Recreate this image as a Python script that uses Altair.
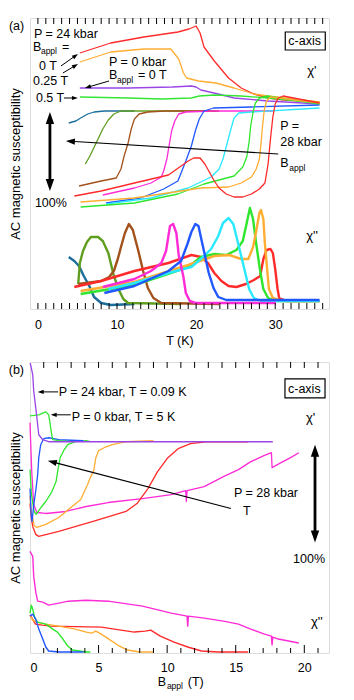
import math
import altair as alt
import pandas as pd

FONT = "Liberation Sans"

RED = "#ff2a2a"
ORANGE = "#ffad33"
PURPLE = "#9b45e6"
LGREEN = "#33e633"
TEAL = "#1b6d9c"
OLIVE = "#5f9e1e"
BROWN = "#a3521c"
MAGENTA = "#ff2bd6"
BLUE = "#2157ff"
CYAN = "#29e8ff"
GREEN = "#2ee62e"

# ================= Panel (a): vs temperature T (K) =================
# chi' : P = 24 kbar at B_appl = 0, 0.25, 0.5 T and P = 0 kbar, B_appl = 0 T
A1_P24_0T_T = [5.3, 9.2, 13.4, 17.7, 19.1, 20.0, 20.5, 21.0, 22.3, 24.1, 25.7, 27.3, 29.1, 31.1, 35.6]
A1_P24_0T_Y = [256, 266, 272, 277, 280, 283, 276, 262, 248, 231, 221, 215, 211, 209, 207]
A1_P24_025T_T = [5.3, 9.2, 13.4, 16.8, 17.8, 18.4, 18.8, 20.3, 22.5, 24.8, 27.3, 29.1, 35.6]
A1_P24_025T_Y = [247, 257, 260, 260, 250, 236, 231, 228, 226, 221, 215, 213, 207]
A1_P0_0T_T = [5.3, 11.4, 17.0, 19.4, 20.0, 20.6, 22.8, 24.8, 29.1, 35.6]
A1_P0_0T_Y = [221, 221, 222, 223, 222, 219, 215, 211, 208, 205]
A1_P24_05T_T = [5.3, 11.4, 15.6, 19.4, 20.4, 22.3, 25.7, 29.1, 35.6]
A1_P24_05T_Y = [212, 211, 210, 211, 213, 214, 213, 211, 206]
# chi' : P = 28 kbar, various B_appl
A1_TEAL_T = [3.9, 4.8, 5.4, 6.3, 7.1, 8.4, 12.2]
A1_TEAL_Y = [186, 188, 191, 195, 197, 198, 198]
A1_OLIVE_T = [6.0, 6.5, 7.0, 7.6, 8.2, 8.9, 9.6, 10.5, 14.3, 22.5]
A1_OLIVE_Y = [145, 152, 160, 170, 180, 189, 195, 198, 198, 198]
A1_BROWN_T = [5.2, 8.0, 9.9, 10.5, 10.9, 11.4, 11.8, 12.2, 12.8, 13.9, 16.0, 22.9]
A1_BROWN_Y = [123, 128, 131, 140, 153, 166, 180, 190, 195, 197, 198, 198]
A1_MAGENTA_T = [8.2, 12.2, 14.3, 15.6, 15.9, 16.3, 16.6, 16.9, 17.3, 17.8, 18.7, 22.0, 29.7]
A1_MAGENTA_Y = [114, 121, 126, 132, 138, 150, 164, 178, 188, 195, 197, 198, 198]
A1_BLUE_T = [8.6, 13.0, 15.9, 17.7, 18.7, 19.4, 19.9, 20.4, 21.0, 22.2, 27.0, 35.6]
A1_BLUE_Y = [106, 111, 120, 128, 148, 163, 178, 190, 198, 201, 202, 204]
A1_CYAN_T = [8.6, 14.3, 19.0, 21.9, 22.9, 23.4, 23.9, 24.4, 24.8, 25.4, 27.0, 35.6]
A1_CYAN_Y = [105, 111, 121, 132, 140, 150, 165, 180, 191, 196, 197, 201]
A1_GREEN_T = [5.4, 12.2, 17.7, 21.0, 24.8, 25.9, 26.4, 26.7, 26.9, 27.2, 27.5, 28.0, 29.0, 35.6]
A1_GREEN_Y = [102, 106, 115, 125, 133, 142, 152, 167, 183, 197, 206, 211, 213, 205]
A1_ORANGE_T = [5.4, 12.2, 20.6, 24.1, 25.7, 27.0, 27.6, 28.0, 28.2, 28.4, 28.6, 28.9, 29.4, 35.6]
A1_ORANGE_Y = [107, 111, 121, 122, 126, 132, 140, 150, 165, 183, 198, 208, 212, 206]
A1_RED_T = [4.6, 8.0, 12.2, 16.5, 19.0, 19.7, 20.5, 21.1, 21.6, 22.3, 22.9, 23.8, 24.8, 25.9, 27.0,
            28.0, 28.7, 29.1, 29.4, 29.7, 30.0, 30.4, 31.0, 35.6]
A1_RED_Y = [113, 118, 126, 134, 148, 151, 151, 145, 138, 128, 121, 115, 112, 112, 115,
            120, 126, 145, 170, 192, 205, 211, 213, 206]

# chi'' : P = 28 kbar
A2_TEAL_T = [3.9, 4.6, 5.2, 5.8, 6.5, 7.1, 8.0, 9.2, 12.2]
A2_TEAL_Y = [52, 48, 43, 33, 23, 12, 6, 4, 5]
A2_OLIVE_T = [5.1, 5.3, 5.7, 6.2, 6.7, 7.6, 8.2, 8.9, 9.6, 10.3, 10.8, 11.4, 18.1]
A2_OLIVE_Y = [25, 46, 58, 67, 72, 72, 68, 56, 33, 18, 10, 6, 5]
A2_BROWN_T = [5.1, 8.0, 9.0, 9.6, 10.1, 10.5, 11.0, 11.5, 12.0, 12.7, 13.3, 13.9, 14.6, 15.6, 22.9]
A2_BROWN_Y = [25, 28, 32, 38, 50, 62, 76, 85, 79, 58, 38, 21, 11, 6, 5]
A2_MAGENTA_T = [8.2, 12.2, 14.3, 15.6, 16.2, 16.5, 16.7, 17.1, 17.5, 17.8, 18.4, 18.7, 19.2, 19.9, 30.1]
A2_MAGENTA_Y = [22, 30, 38, 46, 58, 73, 83, 85, 76, 54, 32, 16, 8, 6, 6]
A2_CYAN_T = [8.9, 12.2, 16.5, 19.4, 20.6, 21.9, 22.8, 23.4, 24.1, 24.7, 25.3, 26.1, 26.7, 27.3, 28.2, 35.6]
A2_CYAN_Y = [20, 26, 36, 42, 50, 60, 73, 86, 91, 85, 66, 40, 20, 11, 8, 8]
A2_GREEN_T = [5.4, 12.2, 16.8, 19.0, 20.6, 22.3, 23.8, 25.1, 25.9, 26.4, 26.8, 27.2, 27.6, 28.1, 28.5,
              29.1, 30.1, 35.6]
A2_GREEN_Y = [15, 24, 36, 42, 52, 55, 54, 59, 68, 86, 101, 90, 65, 38, 20, 11, 8, 8]
A2_ORANGE_T = [5.4, 12.2, 19.0, 22.3, 24.2, 25.7, 26.6, 27.2, 27.6, 28.0, 28.2, 28.5, 28.7, 29.0, 29.2,
               29.7, 30.8, 35.6]
A2_ORANGE_Y = [18, 27, 44, 53, 54, 50, 50, 62, 78, 96, 99, 90, 65, 38, 20, 11, 8, 8]
A2_RED_T = [4.6, 8.0, 12.2, 16.5, 19.4, 20.6, 21.5, 22.3, 23.2, 24.1, 25.1, 26.3, 27.3, 28.1, 28.5,
            28.9, 29.4, 29.7, 30.0, 30.3, 30.5, 31.4, 35.6]
A2_RED_Y = [22, 28, 38, 46, 54, 52, 46, 36, 28, 23, 22, 25, 29, 33, 50, 59, 60, 56, 40, 20, 11, 8, 8]
A2_BLUE_T = [8.4, 12.2, 16.5, 18.1, 18.9, 19.4, 19.9, 20.3, 20.6, 21.1, 21.6, 22.2, 22.8, 23.8, 35.6]
A2_BLUE_Y = [16, 23, 38, 48, 65, 77, 85, 83, 72, 54, 36, 21, 12, 9, 9]

# ================= Panel (b): vs applied field B_appl (T) =================
B1_P24_B = [0.0, 0.05, 0.2, 0.27, 0.42, 0.56, 0.64, 0.93, 1.36, 5.2, 17.7]
B1_P24_Y = [291, 289, 279, 263, 246, 229, 219, 214, 212, 212, 212]
B1_P0_B = [0.0, 0.64, 1.15, 1.36, 1.44, 1.58, 1.66, 2.1, 3.0]
B1_P0_Y = [238, 239, 242, 239, 233, 219, 214, 213, 212]
B1_BLUE_B = [0.0, 0.08, 0.15, 0.27, 0.42, 0.56, 0.64, 0.78, 1.0, 1.36, 2.1, 3.9]
B1_BLUE_Y = [165, 140, 132, 148, 163, 179, 196, 209, 215, 216, 214, 213]
B1_GREEN_B = [0.0, 0.1, 0.3, 0.45, 0.8, 1.15, 1.6, 1.9, 2.05, 2.2, 2.45, 2.75, 3.3, 4.1, 4.4]
B1_GREEN_Y = [184, 160, 142, 139, 146, 152, 162, 172, 185, 196, 203, 209, 212, 213, 212]
B1_ORANGE_B = [0.0, 0.1, 0.3, 0.5, 1.15, 2.1, 2.8, 3.7, 4.2, 4.4, 4.65, 4.8, 5.0, 5.4, 6.0, 7.0, 9.0]
B1_ORANGE_Y = [157, 142, 128, 126, 129, 136, 144, 154, 169, 176, 183, 196, 203, 206, 209, 212, 213]
B1_RED_B = [0.0, 0.1, 0.2, 0.42, 0.64, 2.1, 4.6, 7.0, 7.8, 8.6, 9.3, 10.05, 10.8, 11.7, 13.0, 15.9]
B1_RED_Y = [150, 135, 127, 119, 117, 122, 132, 142, 150, 165, 182, 196, 205, 210, 212, 212]
B1_MAGENTA_B = [0.0, 0.12, 0.27, 0.5, 1.15, 1.9, 2.6, 4.1, 5.7, 8.2, 10.3, 11.35, 11.4, 11.45, 12.7, 14.1,
                15.2, 16.1, 17.06, 17.6, 17.65, 18.3, 19.0, 19.6]
B1_MAGENTA_Y = [231, 184, 149, 141, 140, 141, 142, 147, 151, 155, 159, 163, 152, 163, 167, 177,
                184, 192, 198, 201, 186, 191, 196, 201]

B2_MAGENTA_B = [0.0, 0.2, 0.27, 0.42, 0.56, 0.93, 1.36, 2.1, 2.8, 4.1, 5.7, 8.2, 10.3, 11.45, 11.5, 11.55,
                12.7, 14.1, 15.2, 16.1, 17.1, 17.6, 17.65, 17.7, 18.1, 19.6]
B2_MAGENTA_Y = [102, 97, 77, 61, 52, 51, 48, 50, 52, 53, 52, 47, 40, 37, 27, 37,
                35, 32, 29, 24, 19, 17, 8, 16, 14, 10]
B2_RED_B = [0.0, 0.1, 0.4, 0.9, 1.5, 5.2, 7.6, 8.4, 8.8, 9.5, 10.5, 11.5, 12.5, 13.7, 15.9]
B2_RED_Y = [38, 36, 29, 28, 27, 26, 21, 22, 23, 17, 11, 6, 2, 1, 1]
B2_ORANGE_B = [0.0, 0.2, 0.5, 1.15, 2.1, 3.3, 4.1, 4.5, 4.8, 5.2, 5.75, 6.4, 7.1, 8.0, 9.0]
B2_ORANGE_Y = [38, 33, 31, 29, 27, 24, 21, 20, 22, 19, 14, 8, 3, 1, 1]
B2_GREEN_B = [0.0, 0.1, 0.2, 0.35, 0.56, 1.15, 1.66, 2.0, 2.4, 2.75, 3.1, 4.1, 4.4]
B2_GREEN_Y = [40, 48, 44, 35, 31, 29, 24, 21, 14, 7, 3, 1, 1]
B2_BLUE_B = [0.0, 0.2, 0.42, 0.64, 0.93, 1.15, 1.36, 2.1, 3.9]
B2_BLUE_Y = [37, 39, 34, 24, 14, 6, 2, 1, 1]

# ================= Tick values =================
A_TICKS = list(range(0, 37))
B_MINOR = [v for v in range(1, 22) if v % 5 != 0]
B_MAJOR = [5, 10, 15, 20]
B_TOP = list(range(1, 22))
A_LABELS = [0, 10, 20, 30]
B_LABELS = [0, 5, 10, 15, 20]

# ================= Annotations (data units) =================
A_TXT_LABEL = ["(a)", "P = 24 kbar", "B", "appl", "=", "0 T", "0.25 T", "0.5 T", "P = 0 kbar", "B", "appl",
               "= 0 T", "c-axis", "\u03c7'", "P =", "28 kbar", "B", "appl", "100%", "\u03c7''"]
A_TXT_X = [-3.67, -0.51, -0.63, 0.38, 3.04, 0.13, -0.63, -0.25, 8.99, 8.99, 10.0,
           12.66, 31.65, 34.05, 30.63, 30.63, 30.63, 31.77, -0.38, 33.92]
A_TXT_Y = [283, 275, 262, 258, 262, 243, 228, 211, 247, 234, 229,
           234, 268, 238, 183, 167, 146, 141, 106, 73]
A_TXT_SIZE = [12.5, 12.5, 12.5, 8.5, 12.5, 12.5, 12.5, 12.5, 12.5, 12.5, 8.5,
              12.5, 12.5, 13, 12.5, 12.5, 12.5, 8.5, 12.5, 13]

B_TXT_LABEL = ["(b)", "P = 24 kbar, T = 0.09 K", "P = 0 kbar, T = 5 K", "c-axis", "\u03c7'", "P = 28 kbar",
               "T", "100%", "\u03c7''", "B", "appl", "(T)"]
B_TXT_X = [-1.55, 2.09, 3.04, 18.81, 20.12, 14.87, 15.53, 19.18, 20.49, 9.32, 9.98, 11.5]
B_TXT_Y = [284, 262, 237, 265, 236, 161, 142, 94, 31, -29, -33, -29]
B_TXT_SIZE = [12.5, 12.5, 12.5, 12.5, 13, 12.5, 12.5, 12.5, 13, 12.5, 8.5, 12.5]

A_BOX = [31.27, 36.33, 259, 277]
B_BOX = [18.59, 21.51, 256, 275]

A_ARROW_X1 = [2.91, 3.16, 3.29, 8.99, 30.38, 1.52]
A_ARROW_Y1 = [243, 236, 211, 228, 155, 118]
A_ARROW_X2 = [5.06, 5.06, 5.06, 5.95, 3.54, 1.52]
A_ARROW_Y2 = [255, 245, 211, 221, 168, 197]
A_ARROW_W = [1, 1, 1, 1, 1.2, 2.8]
A_ARROW_HEAD = [36, 36, 36, 36, 81, 144]
A_ARROW_BOTH = [False, False, False, False, False, True]

B_ARROW_X1 = [2.05, 2.97, 14.65, 20.78]
B_ARROW_Y1 = [262, 239, 145, 111]
B_ARROW_X2 = [0.56, 1.51, 1.30, 20.78]
B_ARROW_Y2 = [262, 239, 193, 209]
B_ARROW_W = [1, 1, 1.2, 2.8]
B_ARROW_HEAD = [36, 36, 81, 144]
B_ARROW_BOTH = [False, False, False, True]

W, H = 299, 291
A_XDOM = [-1, 36.8]
A_YDOM = [0, 291]
B_XDOM = [0, 21.8]
B_YDOM = [0, 292]


def curves_df(curves):
    rows = []
    for name, color, xs, ys in curves:
        for i, (x, y) in enumerate(zip(xs, ys)):
            rows.append({"curve": name, "color": color, "x": x, "y": y, "i": i})
    return pd.DataFrame(rows)


def text_df(labels, xs, ys, sizes):
    return pd.DataFrame({"label": labels, "x": xs, "y": ys, "size": sizes})


def arrow_dfs(x1s, y1s, x2s, y2s, ws, hs, boths, kx, ky):
    shafts, heads = [], []
    for x1, y1, x2, y2, w, h, b in zip(x1s, y1s, x2s, y2s, ws, hs, boths):
        sx, sy = (x2 - x1) * kx, -(y2 - y1) * ky
        L = math.hypot(sx, sy)
        ux, uy = sx / L, sy / L
        back = math.sqrt(h) / 2
        ex, ey = x2 - ux * back / kx, y2 + uy * back / ky
        ang = math.degrees(math.atan2(ux, -uy)) % 360
        heads.append({"x": ex, "y": ey, "s": h, "ang": ang})
        bx, by = x1, y1
        if b:
            bx, by = x1 + ux * back / kx, y1 - uy * back / ky
            heads.append({"x": bx, "y": by, "s": h, "ang": (ang + 180) % 360})
        shafts.append({"x": bx, "y": by, "x2": ex, "y2": ey, "w": w})
    return pd.DataFrame(shafts), pd.DataFrame(heads)


def ticks_df(values, y_edge, length):
    # y_edge and y_edge + length in data units of the panel's y scale (1 unit ~ 1 px)
    return pd.DataFrame({"x": values, "y": [y_edge] * len(values), "y2": [y_edge + length] * len(values)})


def x_axis(labels, title, label_pad=9, title_pad=4):
    kw = dict(orient="bottom", values=labels, ticks=False, tickSize=0, domain=False, grid=False,
              labelPadding=label_pad, labelFontSize=12.5, labelFont=FONT, labelColor="black")
    if title:
        kw.update(title=title, titlePadding=title_pad, titleFontSize=12.5, titleFont=FONT,
                  titleFontWeight="normal", titleColor="black")
    else:
        kw["title"] = None
    return alt.Axis(**kw)


Y_AXIS = alt.Axis(orient="left", title="AC magnetic susceptibility", labels=False, ticks=False, domain=False,
                  grid=False, titlePadding=8, titleFontSize=13, titleFont=FONT, titleFontWeight="normal",
                  titleColor="black")


def panel(line1, line2, w1, w2, txt, box, shafts, heads, xdom, ydom, xaxis, tick_tables):
    xs = alt.Scale(domain=xdom, nice=False, zero=False)
    ys = alt.Scale(domain=ydom, nice=False, zero=False)

    def X(f="x"):
        return alt.X(f + ":Q", scale=xs, axis=xaxis)

    def Y(f="y"):
        return alt.Y(f + ":Q", scale=ys, axis=Y_AXIS)

    layers = []
    layers.append(alt.Chart(line1).mark_line(strokeWidth=w1, strokeJoin="round").encode(
        x=X(), y=Y(), color=alt.Color("color:N", scale=None), detail="curve:N", order="i:Q"))
    layers.append(alt.Chart(line2).mark_line(strokeWidth=w2, strokeJoin="round").encode(
        x=X(), y=Y(), color=alt.Color("color:N", scale=None), detail="curve:N", order="i:Q"))
    # inward tick marks on the top and bottom edges
    for tdf in tick_tables:
        layers.append(alt.Chart(tdf).mark_rule(color="black", strokeWidth=1).encode(
            x=X(), y=Y(), y2="y2:Q"))
    layers.append(alt.Chart(box).mark_rect(fill="white", stroke="black", strokeWidth=1.2).encode(
        x=X("x1"), x2="x2:Q", y=Y("y1"), y2="y2:Q"))
    layers.append(alt.Chart(txt).mark_text(align="left", baseline="middle", font=FONT, color="black").encode(
        x=X(), y=Y(), text="label:N", size=alt.Size("size:Q", scale=None)))
    layers.append(alt.Chart(shafts).mark_rule(color="black").encode(
        x=X(), y=Y(), x2="x2:Q", y2="y2:Q", strokeWidth=alt.StrokeWidth("w:Q", scale=None)))
    layers.append(alt.Chart(heads).mark_point(shape="M0,-1L0.7,1L-0.7,1Z", filled=True, color="black",
                                              opacity=1, strokeWidth=0).encode(
        x=X(), y=Y(), size=alt.Size("s:Q", scale=None), angle=alt.Angle("ang:Q", scale=None)))
    return alt.layer(*layers).properties(width=W, height=H)


a_line1 = curves_df([
    ("p24_0", RED, A1_P24_0T_T, A1_P24_0T_Y),
    ("p24_025", ORANGE, A1_P24_025T_T, A1_P24_025T_Y),
    ("p0_0", PURPLE, A1_P0_0T_T, A1_P0_0T_Y),
    ("p24_05", LGREEN, A1_P24_05T_T, A1_P24_05T_Y),
    ("teal", TEAL, A1_TEAL_T, A1_TEAL_Y),
    ("olive", OLIVE, A1_OLIVE_T, A1_OLIVE_Y),
    ("brown", BROWN, A1_BROWN_T, A1_BROWN_Y),
    ("magenta", MAGENTA, A1_MAGENTA_T, A1_MAGENTA_Y),
    ("blue", BLUE, A1_BLUE_T, A1_BLUE_Y),
    ("cyan", CYAN, A1_CYAN_T, A1_CYAN_Y),
    ("green", GREEN, A1_GREEN_T, A1_GREEN_Y),
    ("orange", ORANGE, A1_ORANGE_T, A1_ORANGE_Y),
    ("red", RED, A1_RED_T, A1_RED_Y),
])
a_line2 = curves_df([
    ("teal", TEAL, A2_TEAL_T, A2_TEAL_Y),
    ("olive", OLIVE, A2_OLIVE_T, A2_OLIVE_Y),
    ("brown", BROWN, A2_BROWN_T, A2_BROWN_Y),
    ("red", RED, A2_RED_T, A2_RED_Y),
    ("green", GREEN, A2_GREEN_T, A2_GREEN_Y),
    ("orange", ORANGE, A2_ORANGE_T, A2_ORANGE_Y),
    ("cyan", CYAN, A2_CYAN_T, A2_CYAN_Y),
    ("magenta", MAGENTA, A2_MAGENTA_T, A2_MAGENTA_Y),
    ("blue", BLUE, A2_BLUE_T, A2_BLUE_Y),
])
b_line1 = curves_df([
    ("magenta", MAGENTA, B1_MAGENTA_B, B1_MAGENTA_Y),
    ("red", RED, B1_RED_B, B1_RED_Y),
    ("orange", ORANGE, B1_ORANGE_B, B1_ORANGE_Y),
    ("green", GREEN, B1_GREEN_B, B1_GREEN_Y),
    ("blue", BLUE, B1_BLUE_B, B1_BLUE_Y),
    ("p0", LGREEN, B1_P0_B, B1_P0_Y),
    ("p24", PURPLE, B1_P24_B, B1_P24_Y),
])
b_line2 = curves_df([
    ("magenta", MAGENTA, B2_MAGENTA_B, B2_MAGENTA_Y),
    ("red", RED, B2_RED_B, B2_RED_Y),
    ("orange", ORANGE, B2_ORANGE_B, B2_ORANGE_Y),
    ("green", GREEN, B2_GREEN_B, B2_GREEN_Y),
    ("blue", BLUE, B2_BLUE_B, B2_BLUE_Y),
])

a_txt = text_df(A_TXT_LABEL, A_TXT_X, A_TXT_Y, A_TXT_SIZE)
b_txt = text_df(B_TXT_LABEL, B_TXT_X, B_TXT_Y, B_TXT_SIZE)
a_box = pd.DataFrame([dict(x1=A_BOX[0], x2=A_BOX[1], y1=A_BOX[2], y2=A_BOX[3])])
b_box = pd.DataFrame([dict(x1=B_BOX[0], x2=B_BOX[1], y1=B_BOX[2], y2=B_BOX[3])])

a_sh, a_hd = arrow_dfs(A_ARROW_X1, A_ARROW_Y1, A_ARROW_X2, A_ARROW_Y2, A_ARROW_W, A_ARROW_HEAD, A_ARROW_BOTH,
                       W / (A_XDOM[1] - A_XDOM[0]), H / (A_YDOM[1] - A_YDOM[0]))
b_sh, b_hd = arrow_dfs(B_ARROW_X1, B_ARROW_Y1, B_ARROW_X2, B_ARROW_Y2, B_ARROW_W, B_ARROW_HEAD, B_ARROW_BOTH,
                       W / (B_XDOM[1] - B_XDOM[0]), H / (B_YDOM[1] - B_YDOM[0]))

a_ticks = [ticks_df(A_TICKS, A_YDOM[1], -6), ticks_df(A_TICKS, A_YDOM[0], 6)]
b_ticks = [ticks_df(B_TOP, B_YDOM[1], -6), ticks_df(B_MINOR, B_YDOM[0], 5), ticks_df(B_MAJOR, B_YDOM[0], 8)]

pa = panel(a_line1, a_line2, 1.3, 2.4, a_txt, a_box, a_sh, a_hd, A_XDOM, A_YDOM,
           x_axis(A_LABELS, "T (K)"), a_ticks)
pb = panel(b_line1, b_line2, 1.3, 1.4, b_txt, b_box, b_sh, b_hd, B_XDOM, B_YDOM,
           x_axis(B_LABELS, None, label_pad=8), b_ticks)

chart = alt.vconcat(pa, pb, spacing=13).properties(
    padding={"left": 0, "top": 9, "right": 0, "bottom": 0}
).configure_view(stroke="black", strokeWidth=1.3).configure(background="white")

chart.save("out.html", embed_options={"renderer": "svg", "actions": False})
